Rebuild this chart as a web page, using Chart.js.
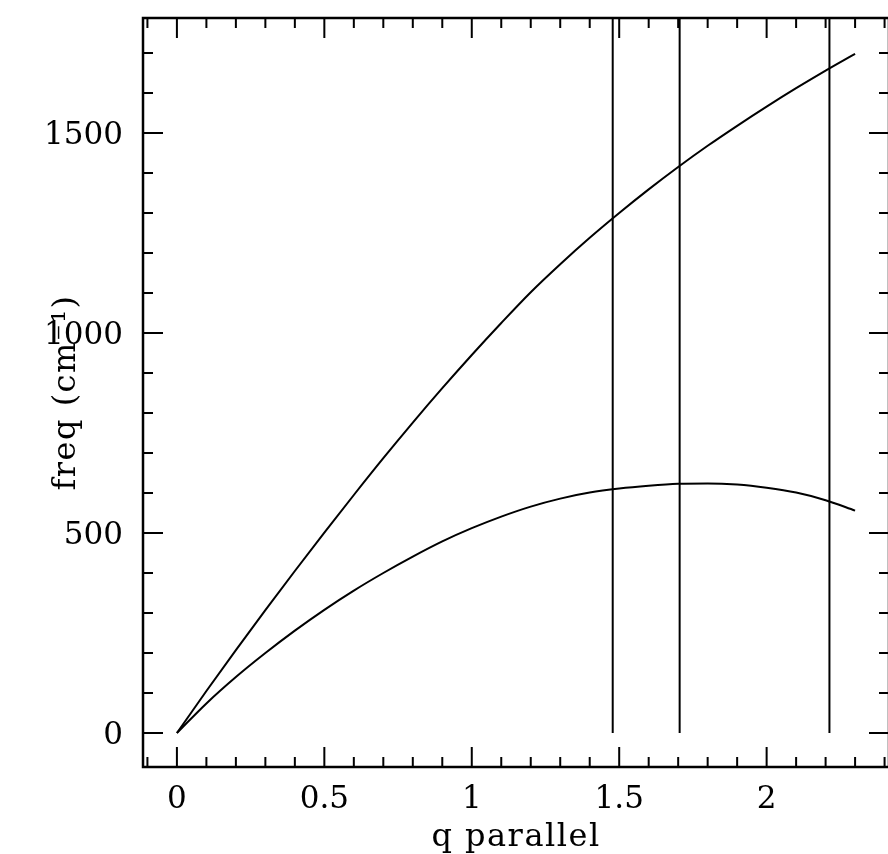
<!DOCTYPE html>
<html>
<head>
<meta charset="utf-8">
<script src="https://cdn.jsdelivr.net/npm/chart.js@4.4.1/dist/chart.umd.min.js"></script>
<style>
  html, body { margin: 0; padding: 0; overflow: hidden; background: #fff; }
  canvas { display: block; }
</style>
</head>
<body>
<canvas id="myChart" width="900" height="854"></canvas>
<script>
// q parallel values and the two frequency branches (cm^-1)
const qValues = [0, 0.1, 0.2, 0.3, 0.4, 0.5, 0.6, 0.7, 0.8, 0.9, 1.0, 1.1, 1.2,
  1.3, 1.4, 1.5, 1.6, 1.7, 1.8, 1.9, 2.0, 2.1, 2.2, 2.3];
const upperFreq = [0, 105, 207, 307, 405, 501, 595, 687, 776, 862, 945, 1025, 1102,
  1172, 1238, 1300, 1359, 1415, 1468, 1518, 1566, 1612, 1656, 1698];
const lowerFreq = [0, 74, 140, 200, 256, 308, 356, 400, 441, 479, 512, 541, 566,
  586, 601, 611, 618, 623, 624, 621, 613, 601, 582, 556];
// vertical marker lines
const markerQ = [1.478, 1.705, 2.213];

const xTicks = [0, 0.5, 1, 1.5, 2];
const yTicks = [0, 500, 1000, 1500];
const xMin = -0.115, xMax = 2.415;
const yMin = -85, yMax = 1787.5;

const xTitle = 'q parallel';
const yTitle = 'freq (cm\u207B\u00B9)';
const font = '"DejaVu Serif", serif';

const ctx = document.getElementById('myChart');

const toPoints = (xs, ys) => xs.map((q, i) => ({ x: q, y: ys[i] }));

const datasets = [
  { data: toPoints(qValues, upperFreq), cubicInterpolationMode: 'monotone' },
  { data: toPoints(qValues, lowerFreq), cubicInterpolationMode: 'monotone' }
];
markerQ.forEach(q => {
  datasets.push({ data: [{ x: q, y: 0 }, { x: q, y: yMax }] });
});
datasets.forEach(d => {
  d.showLine = true;
  d.pointRadius = 0;
  d.borderColor = '#000';
  d.borderWidth = 2;
  d.fill = false;
});

// frame with inward ticks on all four sides, plus the axis titles
const frameTicks = {
  id: 'frameTicks',
  afterDraw(chart) {
    const c = chart.ctx;
    const a = chart.chartArea;
    const x = chart.scales.x, y = chart.scales.y;
    c.save();
    c.strokeStyle = '#000';
    c.lineWidth = 2.5;
    c.strokeRect(a.left, a.top, a.right - a.left, a.bottom - a.top);
    c.lineWidth = 2;
    c.beginPath();
    for (let i = -1; i <= 24; i++) {
      const px = x.getPixelForValue(i / 10);
      const len = i % 5 === 0 ? 20 : 10;
      c.moveTo(px, a.bottom); c.lineTo(px, a.bottom - len);
      c.moveTo(px, a.top); c.lineTo(px, a.top + len);
    }
    for (let i = 0; i <= 17; i++) {
      const py = y.getPixelForValue(i * 100);
      const len = i % 5 === 0 ? 20 : 10;
      c.moveTo(a.left, py); c.lineTo(a.left + len, py);
      c.moveTo(a.right, py); c.lineTo(a.right - len, py);
    }
    c.stroke();

    c.fillStyle = '#000';
    c.font = '32px ' + font;
    c.letterSpacing = '1.5px';
    c.textAlign = 'center';
    c.textBaseline = 'alphabetic';
    c.fillText(xTitle, (a.left + a.right) / 2, 846);
    c.translate(75, (a.top + a.bottom) / 2);
    c.rotate(-Math.PI / 2);
    c.fillText(yTitle, 0, 0);
    c.restore();
  }
};

new Chart(ctx, {
  type: 'scatter',
  data: { datasets: datasets },
  options: {
    responsive: false,
    animation: false,
    layout: { padding: { top: 18, right: 11, left: 0, bottom: 0 } },
    plugins: { legend: { display: false }, tooltip: { enabled: false } },
    scales: {
      x: {
        type: 'linear',
        min: xMin,
        max: xMax,
        grid: { display: false },
        border: { display: false },
        afterBuildTicks: s => { s.ticks = xTicks.map(v => ({ value: v })); },
        afterFit: s => { s.height = 87; s.paddingLeft = 0; s.paddingRight = 0; },
        ticks: {
          autoSkip: false,
          maxRotation: 0,
          padding: 6,
          color: '#000',
          font: { family: font, size: 31 },
          callback: v => String(v)
        }
      },
      y: {
        type: 'linear',
        min: yMin,
        max: yMax,
        grid: { display: false },
        border: { display: false },
        afterBuildTicks: s => { s.ticks = yTicks.map(v => ({ value: v })); },
        afterFit: s => { s.width = 143; s.paddingTop = 0; s.paddingBottom = 0; },
        ticks: {
          autoSkip: false,
          padding: 12,
          labelOffset: 3,
          color: '#000',
          font: { family: font, size: 31 },
          callback: v => String(v)
        }
      }
    }
  },
  plugins: [frameTicks]
});
</script>
</body>
</html>
